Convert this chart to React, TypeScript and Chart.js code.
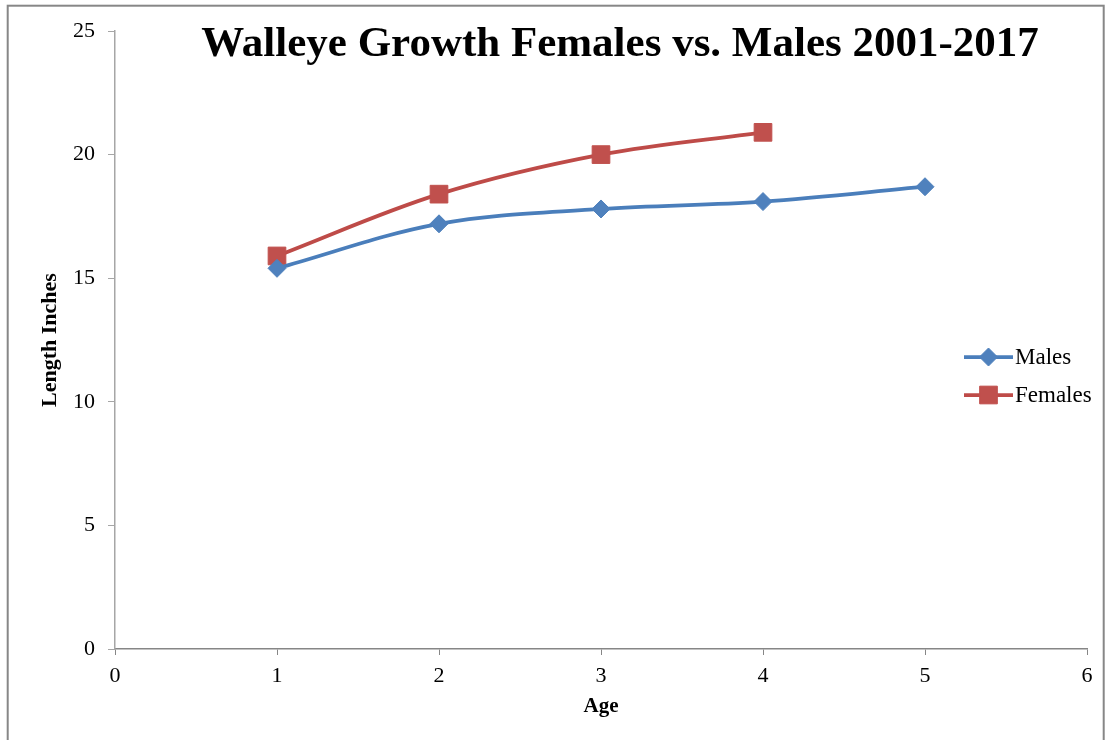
import React, { useEffect, useRef } from 'react';
import { Chart, registerables } from 'chart.js';
import { drawPoint } from 'chart.js/helpers';

Chart.register(...registerables);

const maleAges = [1, 2, 3, 4, 5];
const malesLength = [15.4, 17.2, 17.8, 18.1, 18.7];
const femaleAges = [1, 2, 3, 4];
const femalesLength = [15.9, 18.4, 20.0, 20.9];
const seriesNames = ['Males', 'Females'];
const xRange = [0, 6];
const yRange = [0, 25];
const titleText = 'Walleye Growth Females vs. Males 2001-2017';
const xTitle = 'Age';
const yTitle = 'Length Inches';

const SERIF = "'Times New Roman', 'Liberation Serif', serif";
const BLUE_LINE = '#4A7EBB';
const BLUE_MARK = '#4F81BD';
const RED_LINE = '#BE4B48';
const RED_MARK = '#C0504D';

const decorPlugin = {
  id: 'decor',
  beforeDraw(chart: any) {
    const ctx = chart.ctx;
    ctx.save();
    ctx.fillStyle = '#ffffff';
    ctx.fillRect(0, 0, chart.width, chart.height);
    ctx.restore();
  },
  afterDraw(chart: any) {
    const ctx = chart.ctx;
    const area = chart.chartArea;
    ctx.save();
    // frame
    ctx.strokeStyle = '#878787';
    ctx.lineWidth = 2;
    ctx.strokeRect(7.7, 5.7, 1096, 760);

    // title
    ctx.fillStyle = '#000';
    ctx.font = `bold 43px ${SERIF}`;
    ctx.textAlign = 'center';
    ctx.textBaseline = 'alphabetic';
    ctx.fillText(titleText, 620, 56);

    // axis titles
    ctx.font = `bold 21px ${SERIF}`;
    ctx.textBaseline = 'middle';
    ctx.fillText(xTitle, (area.left + area.right) / 2, 707);
    ctx.save();
    ctx.translate(50, (area.top + area.bottom) / 2);
    ctx.rotate(-Math.PI / 2);
    ctx.font = `bold 22px ${SERIF}`;
    ctx.fillText(yTitle, 0, 0);
    ctx.restore();

    // legend
    const items = chart.data.datasets;
    const ys = [357, 395];
    items.forEach((ds: any, i: number) => {
      const y = ys[i];
      ctx.strokeStyle = ds.borderColor;
      ctx.lineWidth = ds.borderWidth;
      ctx.beginPath();
      ctx.moveTo(964, y);
      ctx.lineTo(1013, y);
      ctx.stroke();
      ctx.fillStyle = ds.pointBackgroundColor;
      ctx.strokeStyle = ds.pointBorderColor;
      ctx.lineWidth = 1;
      drawPoint(ctx, { pointStyle: ds.pointStyle, radius: ds.pointRadius, rotation: 0, borderWidth: 1 } as any, 988.5, y);
      ctx.fillStyle = '#000';
      ctx.font = `23px ${SERIF}`;
      ctx.textAlign = 'left';
      ctx.textBaseline = 'middle';
      ctx.fillText(ds.label, 1015, y + 1);
    });
    ctx.restore();
  },
};

export default function App() {
  const ref = useRef<HTMLCanvasElement | null>(null);

  useEffect(() => {
    document.body.style.margin = '0';
    const canvas = ref.current;
    if (!canvas) return;
    const chart = new Chart(canvas, {
      type: 'line',
      data: {
        datasets: [
          {
            label: seriesNames[0],
            data: maleAges.map((a, i) => ({ x: a, y: malesLength[i] })),
            borderColor: BLUE_LINE,
            backgroundColor: BLUE_MARK,
            pointBackgroundColor: BLUE_MARK,
            pointBorderColor: BLUE_MARK,
            borderWidth: 3.75,
            pointStyle: 'rectRot',
            pointRadius: 9,
            pointBorderWidth: 1,
            tension: 0.35,
            fill: false,
          },
          {
            label: seriesNames[1],
            data: femaleAges.map((a, i) => ({ x: a, y: femalesLength[i] })),
            borderColor: RED_LINE,
            backgroundColor: RED_MARK,
            pointBackgroundColor: RED_MARK,
            pointBorderColor: RED_MARK,
            borderWidth: 3.75,
            pointStyle: 'rect',
            pointRadius: 12.5,
            pointBorderWidth: 1,
            tension: 0.35,
            fill: false,
          },
        ],
      },
      options: {
        responsive: false,
        animation: false,
        devicePixelRatio: 1,
        layout: { padding: { left: 0, top: 31, right: 20, bottom: 0 } },
        plugins: {
          legend: { display: false },
          title: { display: false },
          tooltip: { enabled: false },
        },
        scales: {
          x: {
            type: 'linear',
            min: xRange[0],
            max: xRange[1],
            ticks: {
              stepSize: 1,
              color: '#000',
              padding: 8,
              font: { family: SERIF, size: 22 },
            },
            grid: {
              display: true,
              drawOnChartArea: false,
              drawTicks: true,
              tickLength: 6,
              color: '#868686',
            },
            border: { display: true, color: '#868686', width: 1.5 },
            afterFit(scale: any) {
              scale.height = 91;
            },
          },
          y: {
            type: 'linear',
            min: yRange[0],
            max: yRange[1],
            ticks: {
              stepSize: 5,
              color: '#000',
              padding: 13,
              font: { family: SERIF, size: 22 },
            },
            grid: {
              display: true,
              drawOnChartArea: false,
              drawTicks: true,
              tickLength: 7,
              color: '#a6a6a6',
            },
            border: { display: true, color: '#a6a6a6', width: 1.5 },
            afterFit(scale: any) {
              scale.width = 115;
            },
          },
        },
      },
      plugins: [decorPlugin],
    });
    return () => chart.destroy();
  }, []);

  return (
    <div style={{ width: 1107, height: 740 }}>
      <canvas ref={ref} width={1107} height={740} style={{ display: 'block' }} />
    </div>
  );
}
